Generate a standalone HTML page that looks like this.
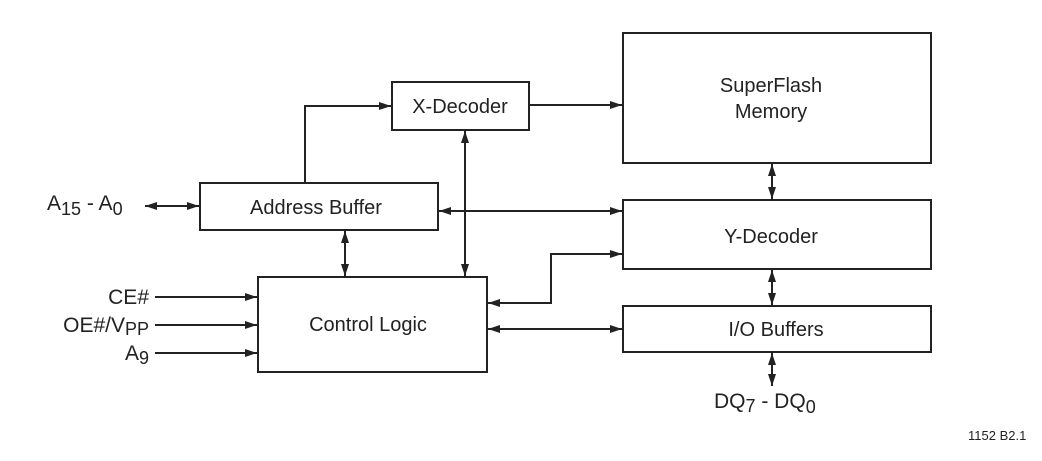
<!DOCTYPE html>
<html><head><style>
html,body{margin:0;padding:0;background:#fff;}
svg{display:block;}
text{font-family:"Liberation Sans",Arial,sans-serif;fill:#222;}
</style></head><body>
<svg width="1042" height="461" viewBox="0 0 1042 461" xmlns="http://www.w3.org/2000/svg">
<defs>
<marker id="a" viewBox="0 0 12 8" refX="12" refY="4" markerWidth="12" markerHeight="8" markerUnits="userSpaceOnUse" orient="auto-start-reverse">
<path d="M0,0 L12,4 L0,8 Z" fill="#222"/>
</marker>
</defs>
<g fill="none" stroke="#222" stroke-width="2">
<rect x="623" y="33" width="308" height="130"/>
<rect x="623" y="200" width="308" height="69"/>
<rect x="623" y="306" width="308" height="46"/>
<rect x="392" y="82" width="137" height="48"/>
<rect x="200" y="183" width="238" height="47"/>
<rect x="258" y="277" width="229" height="95"/>
<line x1="145" y1="206" x2="199" y2="206" marker-start="url(#a)" marker-end="url(#a)"/>
<polyline points="305,183 305,106 391,106" marker-end="url(#a)"/>
<line x1="529" y1="105" x2="622" y2="105" marker-end="url(#a)"/>
<line x1="345" y1="231" x2="345" y2="276" marker-start="url(#a)" marker-end="url(#a)"/>
<line x1="465" y1="131" x2="465" y2="276" marker-start="url(#a)" marker-end="url(#a)"/>
<line x1="439" y1="211" x2="622" y2="211" marker-start="url(#a)" marker-end="url(#a)"/>
<polyline points="488,303 551,303 551,254 622,254" marker-start="url(#a)" marker-end="url(#a)"/>
<line x1="488" y1="329" x2="622" y2="329" marker-start="url(#a)" marker-end="url(#a)"/>
<line x1="772" y1="164" x2="772" y2="199" marker-start="url(#a)" marker-end="url(#a)"/>
<line x1="772" y1="270" x2="772" y2="305" marker-start="url(#a)" marker-end="url(#a)"/>
<line x1="772" y1="353" x2="772" y2="386" marker-start="url(#a)" marker-end="url(#a)"/>
<line x1="155" y1="297" x2="257" y2="297" marker-end="url(#a)"/>
<line x1="155" y1="325" x2="257" y2="325" marker-end="url(#a)"/>
<line x1="155" y1="353" x2="257" y2="353" marker-end="url(#a)"/>
</g>
<g font-size="20" text-anchor="middle">
<text x="771" y="92">SuperFlash</text>
<text x="771" y="118">Memory</text>
<text x="771" y="243">Y-Decoder</text>
<text x="776" y="336">I/O Buffers</text>
<text x="460" y="113">X-Decoder</text>
<text x="316" y="214">Address Buffer</text>
<text x="368" y="331">Control Logic</text>
</g>
<g font-size="21">
<text x="47" y="210">A<tspan font-size="18" dy="5">15</tspan><tspan dy="-5"> - A</tspan><tspan font-size="18" dy="5">0</tspan></text>
<text x="149" y="304" text-anchor="end">CE#</text>
<text x="149" y="332" text-anchor="end">OE#/V<tspan font-size="18" dy="3">PP</tspan></text>
<text x="149" y="360" text-anchor="end">A<tspan font-size="18" dy="4">9</tspan></text>
<text x="714" y="408">DQ<tspan font-size="18" dy="4">7</tspan><tspan dy="-4"> - DQ</tspan><tspan font-size="18" dy="5">0</tspan></text>
</g>
<text x="968" y="440" font-size="13">1152 B2.1</text>
</svg>
</body></html>
